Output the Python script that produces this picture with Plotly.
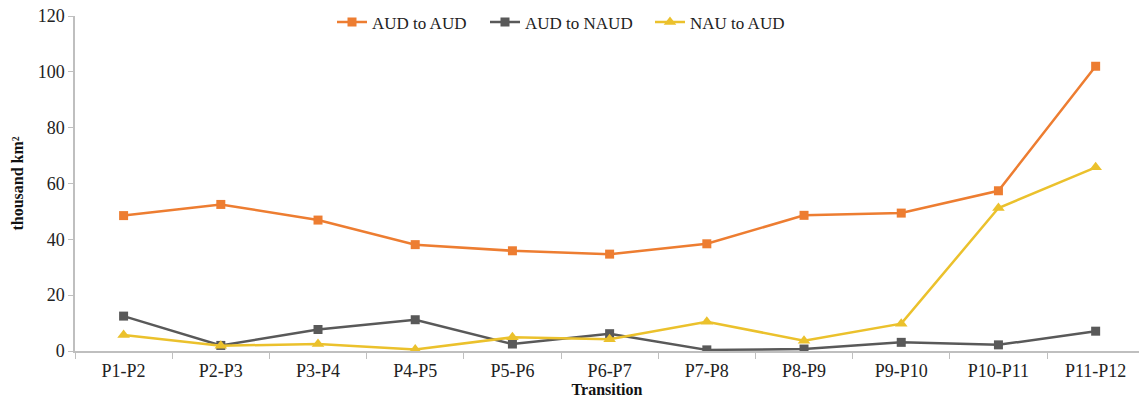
import plotly.graph_objects as go

categories = ["P1-P2", "P2-P3", "P3-P4", "P4-P5", "P5-P6", "P6-P7",
              "P7-P8", "P8-P9", "P9-P10", "P10-P11", "P11-P12"]
aud_to_aud = [48.5, 52.5, 46.9, 38.1, 35.9, 34.7, 38.4, 48.6, 49.4, 57.4, 102.0]
aud_to_naud = [12.5, 2.0, 7.7, 11.2, 2.5, 6.2, 0.4, 0.7, 3.1, 2.2, 7.1]
nau_to_aud = [5.7, 1.9, 2.5, 0.5, 4.9, 4.2, 10.5, 3.7, 9.8, 51.2, 65.8]

FONT = "Liberation Serif"

W, H = 1139, 399
L, T, B = 75, 16, 48
PW = W - L

fig = go.Figure()
series = [
    ("AUD to AUD", aud_to_aud, "#ED7D31", "square", 9, "legend", 337),
    ("AUD to NAUD", aud_to_naud, "#595959", "square", 9, "legend2", 490),
    ("NAU to AUD", nau_to_aud, "#EBC12C", "triangle-up", 11, "legend3", 655),
]
legends = {}
for name, vals, color, sym, size, lg, lx in series:
    fig.add_trace(go.Scatter(
        x=categories, y=vals, name=name, mode="lines+markers",
        line=dict(color=color, width=2.5),
        marker=dict(symbol=sym, size=size, color=color),
        legend=lg,
    ))
    legends[lg] = dict(
        orientation="h", x=(lx - L - 5) / PW, xanchor="left",
        y=(351 - 22.5) / 335, yanchor="middle",
        font=dict(family=FONT, size=17, color="#222222"),
        bgcolor="rgba(0,0,0,0)", borderwidth=0,
    )

fig.update_layout(
    width=W, height=H,
    margin=dict(l=L, r=0, t=T, b=B, autoexpand=False),
    paper_bgcolor="white", plot_bgcolor="white",
    font=dict(family=FONT, size=18, color="#222222"),
    showlegend=True,
    **legends,
    xaxis=dict(
        type="category", range=[-0.5, 10.446], automargin=False,
        showline=True, linecolor="#BFBFBF", linewidth=1.5,
        ticks="outside", ticklen=6, tickcolor="#BFBFBF", tickson="boundaries",
        ticklabelstandoff=3,
        showgrid=False, zeroline=False,
        tickfont=dict(family=FONT, size=18, color="#222222"),
        title=dict(text="<b>Transition</b>", font=dict(family=FONT, size=16, color="#111111"),
                   standoff=3),
    ),
    yaxis=dict(
        range=[0, 120], dtick=20, automargin=False,
        showline=True, linecolor="#BFBFBF", linewidth=1.5,
        ticks="outside", ticklen=5, tickcolor="#BFBFBF",
        showgrid=False, zeroline=False,
        tickfont=dict(family=FONT, size=18, color="#222222"),
        title=dict(text="<b>thousand km²</b>", font=dict(family=FONT, size=16, color="#111111"),
                   standoff=10),
    ),
)

fig.write_html("out.html", config={"displayModeBar": False},
               post_script="document.body.style.margin='0';")
